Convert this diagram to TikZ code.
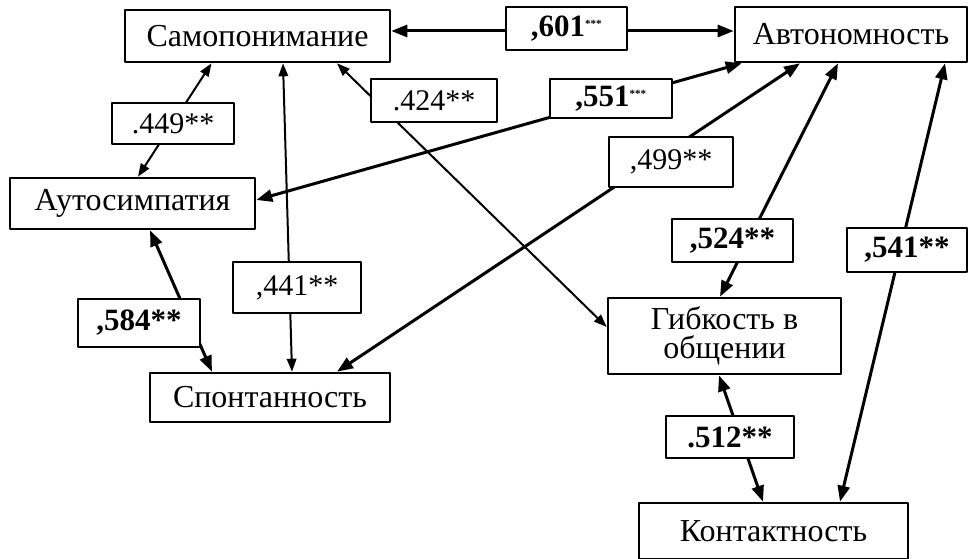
\documentclass[tikz,border=0pt]{standalone}
\usepackage{fontspec}
\setmainfont{Liberation Serif}
\usepackage{tikz}
\usetikzlibrary{arrows.meta}
\usetikzlibrary{calc}
\def \st{\textsuperscript{\fontsize{11}{11}\selectfont***}}

\begin{document}
\begin{tikzpicture}[line cap=round,line join=round,x=1pt,y=-1pt,
  font=\fontsize{32}{29}\selectfont,
  mainbox/.style={draw,line width=2.6pt,line cap=butt,inner sep=0pt,fill=white,align=center},
  numbox/.style={draw,line width=1.3pt,line cap=butt,inner sep=0pt,fill=white,font=\fontsize{30}{31}\selectfont},
  boldnum/.style={numbox,font=\fontsize{31}{31}\selectfont\bfseries},
  thickarr/.style={line width=3pt,{Triangle[length=16pt,width=12pt]}-{Triangle[length=16pt,width=12pt]}},
  thinarr/.style={line width=2pt,{Triangle[length=13pt,width=9.5pt]}-{Triangle[length=13pt,width=9.5pt]}}]
\useasboundingbox (0,0) rectangle (969,559);
\node[mainbox,minimum width=265pt,minimum height=52pt] (samo) at (257.5,36) {Самопонимание};
\node[mainbox,minimum width=232pt,minimum height=55pt] (avto) at (851,34.5) {Автономность};
\node[mainbox,minimum width=245pt,minimum height=51pt] (auto) at (132.5,203.5) {Аутосимпатия};
\node[mainbox,minimum width=240pt,minimum height=49pt] (spon) at (270,397.5) {Спонтанность};
\node[mainbox,minimum width=233pt,minimum height=76pt] (gib) at (724.5,336) {Гибкость в\\общении};
\node[mainbox,minimum width=269pt,minimum height=56pt] (kont) at (773.5,531) {Контактность};
\draw [thickarr] ([yshift=5pt]samo.east) -- ([yshift=5pt]samo.east -| avto.west);
\draw [thinarr] ([xshift=-46pt]samo.south) -- ([xshift=5.5pt]auto.north);
\draw [thinarr] ([xshift=79.5pt]samo.south) -- ([yshift=9pt]gib.west);
\draw [thinarr] ([xshift=25.5pt]samo.south) -- ([xshift=22pt]spon.north);
\draw [thickarr] ([xshift=8pt]avto.south west) -- ([yshift=3.5pt]auto.east);
\draw [thickarr] ([xshift=-51pt]avto.south) -- ([xshift=67pt]spon.north);
\draw [thickarr] ([xshift=-13pt]avto.south) -- ([xshift=-4.5pt]gib.north);
\draw [thickarr] ([xshift=94pt]avto.south) -- ([xshift=66.5pt]kont.north);
\draw [thickarr] ([xshift=17.5pt]auto.south) -- ([xshift=-58pt]spon.north);
\draw [thickarr] ([xshift=-5.5pt]gib.south) -- ([xshift=-10.5pt]kont.north);
% coefficients
\node[boldnum,minimum width=121pt,minimum height=43pt] (c601) at (566.5,28.5) {,601\st};
\node[numbox,minimum width=122pt,minimum height=41pt] (c449) at (173,123.5) {.449**};
\node[numbox,minimum width=126pt,minimum height=43pt] (c424) at (434,100.5) {.424**};
\node[boldnum,minimum width=122pt,minimum height=39pt] (c551) at (611,98.5) {,551\st};
\node[numbox,minimum width=124pt,minimum height=50pt] (c499) at (671,162) {,499**};
\node[boldnum,minimum width=121pt,minimum height=43pt] (c524) at (732.5,240.5) {,524**};
\node[boldnum,minimum width=120pt,minimum height=44pt] (c541) at (907,250) {,541**};
\node[numbox,minimum width=128pt,minimum height=51pt] (c441) at (297,287.5) {,441**};
\node[boldnum,minimum width=122pt,minimum height=48pt] (c584) at (139,323) {,584**};
\node[boldnum,minimum width=128pt,minimum height=42pt] (c512) at (730,437) {.512**};
\end{tikzpicture}
\end{document}
